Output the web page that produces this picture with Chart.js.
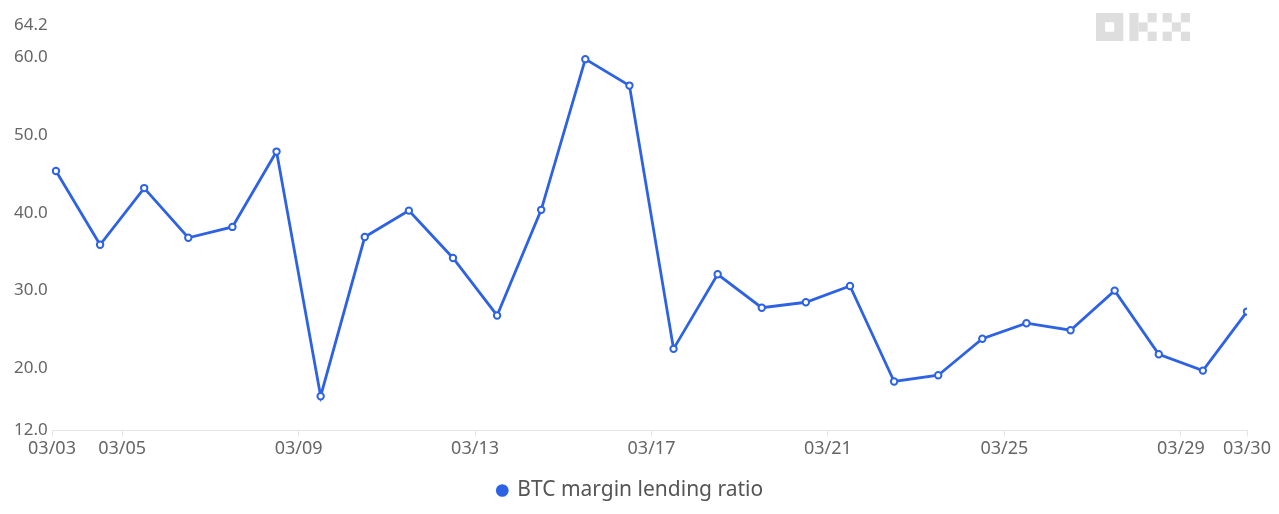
<!DOCTYPE html>
<html>
<head>
<meta charset="utf-8">
<script src="https://cdn.jsdelivr.net/npm/chart.js@4"></script>
<style>
  html, body { margin: 0; padding: 0; background: #fff; }
  #wrap { position: relative; width: 1279px; height: 514px; }
  #logo { position: absolute; left: 1096px; top: 13px; width: 94px; height: 28px; }
</style>
</head>
<body>
<div id="wrap">
  <canvas id="chart" width="1279" height="514"></canvas>
  <svg id="logo" viewBox="0 0 10.33 3" preserveAspectRatio="none">
    <g fill="#dedede">
      <path d="M0 0H3V3H0Z M1 1V2H2V1Z" fill-rule="evenodd"/>
      <rect x="3.67" y="0" width="1" height="3"/>
      <rect x="4.67" y="1" width="1" height="1"/>
      <rect x="5.67" y="0" width="1" height="1"/>
      <rect x="5.67" y="2" width="1" height="1"/>
      <rect x="7.33" y="0" width="1" height="1"/>
      <rect x="9.33" y="0" width="1" height="1"/>
      <rect x="8.33" y="1" width="1" height="1"/>
      <rect x="7.33" y="2" width="1" height="1"/>
      <rect x="9.33" y="2" width="1" height="1"/>
    </g>
  </svg>
</div>
<script>
// one point per day, 03/03 .. 03/30
const days = [
  "03/03", "03/04", "03/05", "03/06", "03/07", "03/08", "03/09",
  "03/10", "03/11", "03/12", "03/13", "03/14", "03/15", "03/16",
  "03/17", "03/18", "03/19", "03/20", "03/21", "03/22", "03/23",
  "03/24", "03/25", "03/26", "03/27", "03/28", "03/29", "03/30"
];
const lendingRatio = [
  45.4, 35.9, 43.2, 36.8, 38.2, 47.9, 16.4,
  36.9, 40.3, 34.2, 26.8, 40.4, 59.8, 56.4,
  22.5, 32.1, 27.8, 28.5, 30.6, 18.3, 19.1,
  23.8, 25.8, 24.9, 30.0, 21.8, 19.7, 27.3
];
const yTicks = [12, 20, 30, 40, 50, 60, 64.2];
// day labels shown on the x axis (midnight ticks + the two edges)
const xTickDays = ["03/03", "03/05", "03/09", "03/13", "03/17", "03/21", "03/25", "03/29", "03/30"];

const blue = "#2e62e5";
const font = "'Noto Sans', 'DejaVu Sans', sans-serif";

// points sit at noon; axis starts a little before the first one
const xMin = -0.09;
const xMax = days.length - 1;

function tickPos(label, i) {
  if (i === 0) return xMin;
  if (i === xTickDays.length - 1) return xMax;
  return days.indexOf(label) - 0.5;
}
const xTickVals = xTickDays.map(tickPos);

new Chart(document.getElementById("chart"), {
  type: "line",
  data: {
    datasets: [{
      label: "BTC margin lending ratio",
      data: lendingRatio.map((v, i) => ({ x: i, y: v })),
      borderColor: blue,
      backgroundColor: "#fff",
      borderWidth: 2.8,
      pointRadius: 3.2,
      pointBorderWidth: 2,
      pointBackgroundColor: "#fff",
      pointBorderColor: blue,
      tension: 0
    }]
  },
  options: {
    responsive: false,
    animation: false,
    layout: { padding: { left: 14, right: 32, top: 25, bottom: 3 } },
    plugins: {
      tooltip: { enabled: false },
      legend: {
        position: "bottom",
        labels: {
          usePointStyle: true,
          boxWidth: 9,
          boxHeight: 9,
          padding: 18,
          color: "#555",
          font: { family: font, size: 21 },
          generateLabels: chart => chart.data.datasets.map((ds, i) => ({
            text: ds.label,
            fillStyle: blue,
            strokeStyle: blue,
            lineWidth: 0,
            pointStyle: "circle",
            fontColor: "#555",
            datasetIndex: i
          }))
        }
      }
    },
    scales: {
      x: {
        type: "linear",
        min: xMin,
        max: xMax,
        afterBuildTicks: s => { s.ticks = xTickVals.map(v => ({ value: v })); },
        grid: { drawOnChartArea: false, drawTicks: true, tickLength: 6, color: "#e6e6e6" },
        border: { display: true, color: "#e6e6e6" },
        ticks: {
          autoSkip: false,
          maxRotation: 0,
          padding: 2,
          color: "#666",
          font: { family: font, size: 18 },
          callback: (v, i) => xTickDays[i]
        }
      },
      y: {
        min: 12,
        max: 64.2,
        afterBuildTicks: s => { s.ticks = yTicks.map(v => ({ value: v })); },
        afterFit: s => { s.width = 38; },
        grid: { display: false },
        border: { display: false },
        ticks: {
          crossAlign: "far",
          color: "#666",
          font: { family: font, size: 17 },
          callback: v => Number(v).toFixed(1)
        }
      }
    }
  }
});
</script>
</body>
</html>
